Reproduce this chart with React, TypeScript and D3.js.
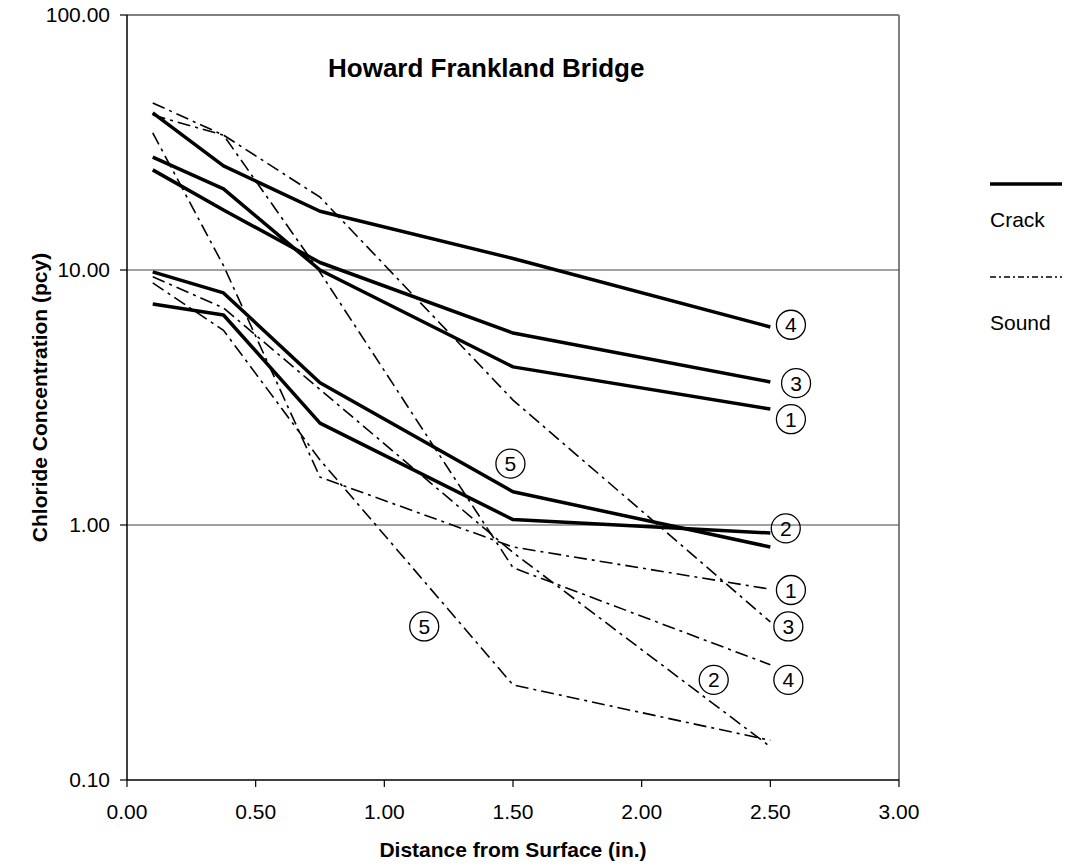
import React from "react";
import * as d3 from "d3";

const depths = [0.1, 0.375, 0.75, 1.5, 2.5];

const crack1 = [27.7, 20.8, 10.0, 4.17, 2.85];
const crack2 = [7.36, 6.66, 2.51, 1.05, 0.93];
const crack3 = [24.7, 17.2, 10.7, 5.66, 3.64];
const crack4 = [41.3, 25.6, 17.0, 11.1, 5.98];
const crack5 = [9.83, 8.13, 3.61, 1.35, 0.82];

const sound1 = [34.5, 10.4, 1.54, 0.82, 0.56];
const sound2 = [9.4, 7.1, 3.4, 0.78, 0.135];
const sound3 = [45.2, 33.8, 19.3, 3.09, 0.417];
const sound4 = [40.5, 33.8, 9.8, 0.68, 0.283];
const sound5 = [8.9, 5.8, 1.8, 0.236, 0.143];

const crackSeries = [crack1, crack2, crack3, crack4, crack5];
const soundSeries = [sound1, sound2, sound3, sound4, sound5];

const crackLabels = [
  { id: "4", x: 2.58, v: 6.1 },
  { id: "3", x: 2.6, v: 3.6 },
  { id: "1", x: 2.58, v: 2.6 },
  { id: "2", x: 2.56, v: 0.97 },
  { id: "5", x: 1.49, v: 1.74 },
];
const soundLabels = [
  { id: "1", x: 2.58, v: 0.556 },
  { id: "3", x: 2.57, v: 0.4 },
  { id: "4", x: 2.57, v: 0.247 },
  { id: "2", x: 2.28, v: 0.247 },
  { id: "5", x: 1.155, v: 0.4 },
];

const xTicks = [0, 0.5, 1, 1.5, 2, 2.5, 3];
const yTicks = [0.1, 1, 10, 100];

const title = "Howard Frankland Bridge";
const xTitle = "Distance from Surface (in.)";
const yTitle = "Chloride Concentration (pcy)";
const legendNames = ["Crack", "Sound"];

const FONT = "'Liberation Sans', Arial, Helvetica, sans-serif";

export default function App() {
  const left = 127, right = 899, top = 15, bottom = 780;
  const x = d3.scaleLinear().domain([0, 3]).range([left, right]);
  const y = d3.scaleLog().domain([0.1, 100]).range([bottom, top]);
  const line = d3
    .line<number>()
    .x((_, i) => x(depths[i]))
    .y((d) => y(d));
  const dash = "13,5,3,5";

  return (
    <svg
      width={1065}
      height={867}
      style={{ position: "absolute", left: 0, top: 0, background: "#fff" }}
      fontFamily={FONT}
    >
      <rect x={0} y={0} width={1065} height={867} fill="#fff" />
      <line x1={left} x2={right} y1={top} y2={top} stroke="#808080" strokeWidth={2} />
      <line x1={right} x2={right} y1={top} y2={bottom} stroke="#808080" strokeWidth={2} />
      {yTicks
        .filter((t) => t > 0.1 && t < 100)
        .map((t) => (
          <line key={"g" + t} x1={left} x2={right} y1={y(t)} y2={y(t)} stroke="#444" strokeWidth={1.2} />
        ))}
      <line x1={left} x2={left} y1={top} y2={bottom} stroke="#000" strokeWidth={1.5} />
      <line x1={left} x2={right} y1={bottom} y2={bottom} stroke="#000" strokeWidth={1.5} />
      {yTicks.map((t) => (
        <g key={"yt" + t}>
          <line x1={left - 7} x2={left} y1={y(t)} y2={y(t)} stroke="#000" strokeWidth={1.2} />
          <text x={left - 17} y={y(t)} dy="0.35em" textAnchor="end" fontSize={21}>
            {d3.format(".2f")(t)}
          </text>
        </g>
      ))}
      {xTicks.map((t) => (
        <g key={"xt" + t}>
          <line x1={x(t)} x2={x(t)} y1={bottom} y2={bottom + 7} stroke="#000" strokeWidth={1.2} />
          <text x={x(t)} y={819} textAnchor="middle" fontSize={21}>
            {d3.format(".2f")(t)}
          </text>
        </g>
      ))}
      <text x={(left + right) / 2} y={857} textAnchor="middle" fontSize={21} fontWeight="bold">
        {xTitle}
      </text>
      <text
        transform={`translate(47,${(top + bottom) / 2}) rotate(-90)`}
        textAnchor="middle"
        fontSize={21}
        fontWeight="bold"
      >
        {yTitle}
      </text>
      <text x={328} y={77} fontSize={26} fontWeight="bold">
        {title}
      </text>
      {soundSeries.map((s, i) => (
        <path key={"s" + i} d={line(s) || ""} fill="none" stroke="#000" strokeWidth={1.6} strokeDasharray={dash} />
      ))}
      {crackSeries.map((s, i) => (
        <path key={"c" + i} d={line(s) || ""} fill="none" stroke="#000" strokeWidth={3.5} strokeLinejoin="round" />
      ))}
      {[...crackLabels, ...soundLabels].map((l, i) => (
        <g key={"l" + i} transform={`translate(${x(l.x)},${y(l.v)})`}>
          <circle r={14.5} fill="none" stroke="#000" strokeWidth={1.3} />
          <text dy="0.36em" textAnchor="middle" fontSize={21}>
            {l.id}
          </text>
        </g>
      ))}
      <line x1={990} x2={1062} y1={184} y2={184} stroke="#000" strokeWidth={3.5} />
      <text x={990} y={227} fontSize={21}>
        {legendNames[0]}
      </text>
      <line x1={990} x2={1062} y1={277} y2={277} stroke="#000" strokeWidth={1.5} strokeDasharray="6,3,2,3" />
      <text x={990} y={330} fontSize={21}>
        {legendNames[1]}
      </text>
    </svg>
  );
}
